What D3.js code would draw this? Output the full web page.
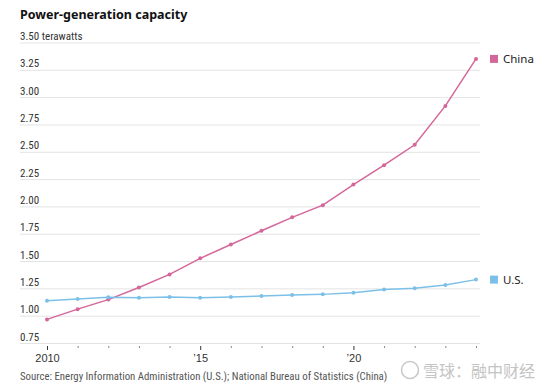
<!DOCTYPE html>
<html><head><meta charset="utf-8">
<script src="https://cdn.jsdelivr.net/npm/d3@7"></script>
<style>
body{margin:0;background:#fff;}
text{font-family:"Liberation Sans Narrow","Roboto Condensed","Arial Narrow",sans-serif;}
</style></head>
<body><svg id="c" width="553" height="388"></svg>
<script>
const years = [2010,2011,2012,2013,2014,2015,2016,2017,2018,2019,2020,2021,2022,2023,2024];
const china = [0.966,1.06,1.147,1.258,1.378,1.525,1.651,1.777,1.90,2.011,2.20,2.377,2.564,2.92,3.35];
const us = [1.137,1.153,1.168,1.163,1.17,1.165,1.172,1.18,1.19,1.195,1.21,1.24,1.25,1.28,1.33];
const yTicks = [0.75,1.00,1.25,1.50,1.75,2.00,2.25,2.50,2.75,3.00,3.25,3.50];
const xLabels = {2010:"2010",2015:"\u201915",2020:"\u201920"};
const seriesNames = ["China","U.S."];
const colors = ["#d4679a","#7cc0e8"];

const svg = d3.select("#c");
const x = d3.scaleLinear().domain([2010,2024]).range([47,476]);
const y = d3.scaleLinear().domain([0.75,3.5]).range([343,42.5]);

svg.append("text").attr("x",20).attr("y",19).text("Power-generation capacity")
  .style("font-family","'Noto Sans','Open Sans',sans-serif").style("font-weight","bold").style("font-size","12.5px").attr("fill","#111");

// gridlines
const ga = svg.append("g").attr("transform","translate(480,0)");
ga.call(d3.axisLeft(y).tickValues(yTicks).tickSize(460).tickFormat(""));
ga.select(".domain").remove();
ga.selectAll(".tick line").attr("stroke","#e3e3e3").attr("stroke-width",1);
// labels
svg.append("g").selectAll("text").data(yTicks).join("text")
  .attr("x",20).attr("y",d=>y(d)-2.5)
  .attr("font-size","11px").attr("fill","#333")
  .text((d,i)=> i===yTicks.length-1 ? d3.format(".2f")(d)+" terawatts" : d3.format(".2f")(d));

// x axis
const gx = svg.append("g").attr("transform","translate(0,346)");
gx.call(d3.axisBottom(x).tickValues(years).tickSize(3).tickFormat(d=>xLabels[d]||""));
gx.select(".domain").remove();
gx.selectAll(".tick line").attr("stroke",d=>xLabels[d]?"#333":"#888").attr("y2",d=>xLabels[d]?4:2);
gx.selectAll(".tick text").attr("font-size","11px").attr("fill","#333").attr("dy","0.9em")
  .style("font-family","'Liberation Sans Narrow','Arial Narrow',sans-serif");

const line = d3.line().x((d,i)=>x(years[i])).y(d=>y(d));
[china,us].forEach((s,k)=>{
  svg.append("path").datum(s).attr("d",line).attr("fill","none").attr("stroke",colors[k]).attr("stroke-width",1.5);
  svg.append("g").selectAll("circle").data(s).join("circle")
    .attr("cx",(d,i)=>x(years[i])).attr("cy",d=>y(d)).attr("r",2).attr("fill",colors[k]);
  const last = s[s.length-1];
  svg.append("rect").attr("x",490).attr("y",y(last)-4).attr("width",8).attr("height",8).attr("fill",colors[k]);
  svg.append("text").attr("x",503).attr("y",y(last)+4).attr("font-size","11.5px").attr("fill","#222")
    .style("font-family","'Noto Sans','Open Sans',sans-serif").text(seriesNames[k]);
});

svg.append("text").attr("x",20).attr("y",380).attr("font-size","10.8px").attr("fill","#555")
  .text("Source: Energy Information Administration (U.S.); National Bureau of Statistics (China)");

// watermark
svg.append("circle").attr("cx",410).attr("cy",370).attr("r",8.5).attr("fill","none").attr("stroke","#c8c8c8").attr("stroke-width",1.5);
svg.append("text").attr("x",423).attr("y",377).attr("font-size","16px").attr("fill","#c4c4c4")
  .style("font-family","'Noto Sans CJK SC',sans-serif").text("雪球：融中财经");
</script></body></html>
